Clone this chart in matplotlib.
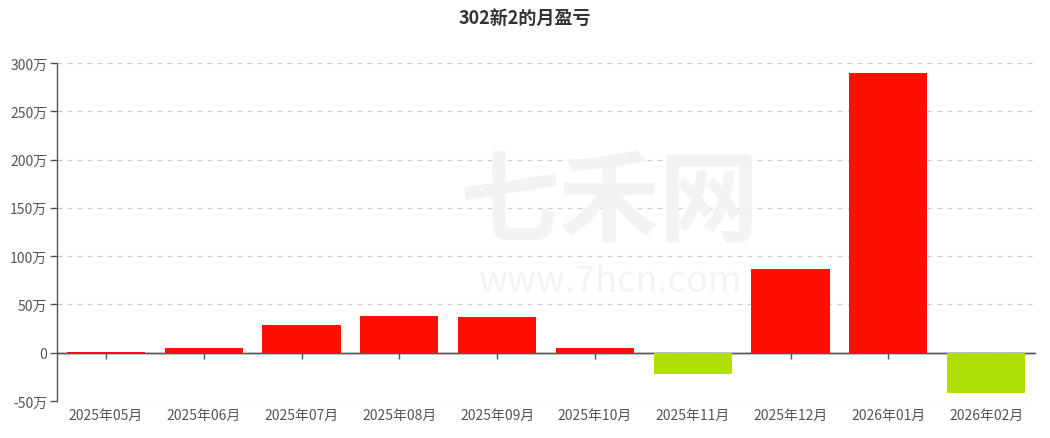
import matplotlib
matplotlib.use("Agg")
import matplotlib.pyplot as plt
import numpy as np

plt.rcParams['font.family'] = ['Noto Sans CJK SC', 'DejaVu Sans']

months = ["2025年05月", "2025年06月", "2025年07月", "2025年08月", "2025年09月",
          "2025年10月", "2025年11月", "2025年12月", "2026年01月", "2026年02月"]
profit_wan = [0.3, 5.0, 29.0, 38.0, 36.5, 4.8, -22.4, 86.6, 289.8, -41.4]
y_ticks = [-50, 0, 50, 100, 150, 200, 250, 300]
title = "302新2的月盈亏"

pos_color = "#FF0F00"
neg_color = "#B0DE09"

fig = plt.figure(figsize=(10.5, 4.39), dpi=100)
ax = fig.add_axes([57/1050, 1-402/439, (1035-57)/1050, (402-64)/439])

x = np.arange(len(months))
colors = [pos_color if v >= 0 else neg_color for v in profit_wan]
ax.bar(x, profit_wan, width=0.8, color=colors, zorder=3)

ax.set_xlim(-0.5, len(months) - 0.5)
ax.set_ylim(-50, 300)
ax.set_yticks(y_ticks)
ax.set_yticklabels([("0" if v == 0 else f"{v}万") for v in y_ticks])
ax.set_xticks(x)
ax.set_xticklabels(months)

ax.grid(axis='y', color='#cccccc', linestyle=(0, (4, 4)), linewidth=0.9, zorder=0)
for s in ['top', 'right', 'bottom']:
    ax.spines[s].set_visible(False)
ax.spines['left'].set_color('#555555')
ax.spines['left'].set_linewidth(1.0)
ax.tick_params(axis='y', colors='#555555', labelsize=10, length=5, width=1, labelcolor='#555555', pad=2)
ax.tick_params(axis='x', length=0, labelsize=10, labelcolor='#555555', pad=5)

# zero axis line with category ticks
sec = ax.secondary_xaxis(50/350)
sec.set_xticks(x)
sec.set_xticklabels([])
sec.spines['bottom'].set_color('#555555')
sec.spines['bottom'].set_linewidth(1.0)
sec.spines['bottom'].set_zorder(2)
sec.tick_params(axis='x', direction='out', length=4, width=1, colors='#555555')
sec.set_zorder(2)
ax.axhline(0, color='#555555', linewidth=1.0, zorder=2)

# watermark
fig.text(610/1050, 1-205/439, "七禾网", fontsize=72, color='#f3f3f3', ha='center', va='center',
         fontweight='bold', zorder=0)
fig.text(610/1050, 1-282/439, "www.7hcn.com", fontsize=26, color='#f3f3f3', ha='center', va='center',
         zorder=0)

fig.text(0.5, 1-18/439, title, fontsize=13, fontweight='bold', color='#333333', ha='center', va='center')

fig.savefig("out.png", dpi=100, facecolor='white')
